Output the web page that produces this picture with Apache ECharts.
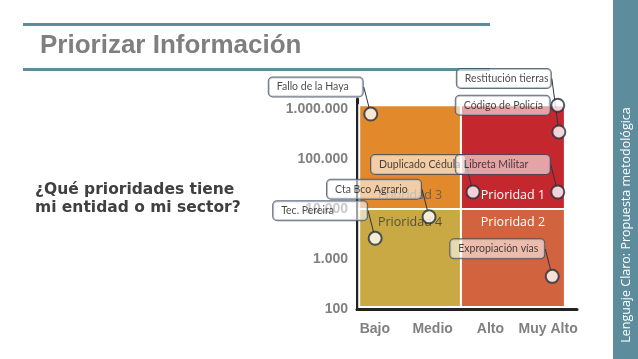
<!DOCTYPE html>
<html><head><meta charset="utf-8">
<script src="https://cdn.jsdelivr.net/npm/echarts@6/dist/echarts.min.js"></script>
<style>html,body{margin:0;padding:0;background:#fff}#c{width:638px;height:359px}</style>
</head><body><div id="c"></div>
<script>
// ---- data ----
const levelLabels = ['Bajo', 'Medio', 'Alto', 'Muy Alto'];
const pointNames = ['Fallo de la Haya', 'Código de Policía', 'Restitución tierras', 'Duplicado Cédula', 'Libreta Militar', 'Cta Bco Agrario', 'Tec. Pereira', 'Expropiación vías'];
const pointLevel = [0.25, 3.65, 3.67, 2.11, 3.65, 1.31, 0.33, 3.55];
const pointValue = [800000, 1200000, 350000, 22000, 22000, 7000, 2600, 450];
const quadrantNames = ['Prioridad 3', 'Prioridad 1', 'Prioridad 4', 'Prioridad 2'];
const quadrantLevelRange = [[0.04, 1.89], [1.89, 3.78], [0.04, 1.89], [1.89, 3.78]];
const quadrantValueRange = [[10000, 1200000], [10000, 1200000], [110, 10000], [110, 10000]];

// ---- styles ----
const quadrantColors = ['#E2892B', '#C4272D', '#C9A944', '#D2633F'];
const quadrantTextColors = ['#6b5f50', '#ffffff', '#5a5036', '#ffffff'];
const quadrantTextPos = ['insideBottom', 'insideBottom', 'insideTop', 'insideTop'];
const calloutDy = [-27, 0, -53.5, -27.5, -27.5, -27.5, -27.5, -27.5];
const teal = '#5d8d9d';
const axisFont = { fontFamily: '"Liberation Sans Narrow", "Liberation Sans", Arial, sans-serif', fontWeight: 'bold', fontSize: 14, color: '#808080' };

function fmt(v) {
  const l = Math.log10(v);
  if (Math.abs(l - Math.round(l)) > 1e-6) return '';
  return String(Math.round(v)).replace(/\B(?=(\d{3})+(?!\d))/g, '.');
}

const areas = quadrantNames.map((n, i) => [
  { name: n, xAxis: quadrantLevelRange[i][0], yAxis: quadrantValueRange[i][0],
    itemStyle: { color: quadrantColors[i] },
    label: { color: quadrantTextColors[i], position: quadrantTextPos[i] } },
  { xAxis: quadrantLevelRange[i][1], yAxis: quadrantValueRange[i][1] }
]);

const points = pointNames.map((n, i) => ({ name: n, value: [pointLevel[i], pointValue[i]] }));

const chart = echarts.init(document.getElementById('c'), null, { renderer: 'canvas' });
chart.setOption({
  animation: false,
  backgroundColor: '#fff',
  grid: [
    { left: 357, right: 61, top: 99, bottom: 50 },
    { left: 346, right: 61, top: 99, bottom: 50 }
  ],
  xAxis: [
    { type: 'value', gridIndex: 0, min: 0, max: 4,
      axisLine: { show: true, onZero: false, lineStyle: { color: '#222', width: 3 } },
      axisTick: { show: false }, axisLabel: { show: false }, splitLine: { show: false } },
    { type: 'category', gridIndex: 1, data: levelLabels,
      axisLine: { show: false }, axisTick: { show: false }, splitLine: { show: false },
      axisLabel: Object.assign({ margin: 13, interval: 0 }, axisFont) }
  ],
  yAxis: [
    { type: 'log', logBase: 10, gridIndex: 0, min: 100, max: 1600000,
      axisLine: { show: true, onZero: false, lineStyle: { color: '#222', width: 3 } },
      axisTick: { show: false }, splitLine: { show: false },
      axisLabel: Object.assign({ margin: 9, formatter: fmt }, axisFont) },
    { type: 'value', gridIndex: 1, show: false }
  ],
  series: [
    { type: 'scatter', xAxisIndex: 0, yAxisIndex: 0, data: [], silent: true, z: 1,
      markArea: {
        silent: true,
        itemStyle: { borderColor: '#ffffff', borderWidth: 2 },
        label: { show: true, distance: 8, fontFamily: '"Open Sans", sans-serif', fontSize: 12.5 },
        data: areas
      } },
    { type: 'scatter', xAxisIndex: 0, yAxisIndex: 0, data: points, z: 3, clip: false,
      symbol: 'circle', symbolSize: 13,
      itemStyle: { color: '#ffffff', borderColor: '#27303d', borderWidth: 2 },
      emphasis: { disabled: true },
      label: {
        show: true, formatter: '{b}', position: 'inside',
        fontFamily: 'Lato, sans-serif', fontSize: 10.5, color: '#1a1a1a',
        backgroundColor: 'rgba(255,255,255,0.72)', borderColor: '#3d4b5f', borderWidth: 1,
        borderRadius: 4, padding: [4, 8, 4, 8], width: 78, align: 'left'
      },
      labelLine: { show: true, lineStyle: { color: '#2b3545', width: 1 } },
      labelLayout: function (p) {
        const cx = p.rect.x + p.rect.width / 2;
        const cy = p.rect.y + p.rect.height / 2;
        return { x: cx - 102, y: cy + calloutDy[p.dataIndex], align: 'left', verticalAlign: 'middle' };
      }
    }
  ],
  graphic: [
    { type: 'rect', shape: { x: 613, y: 0, width: 25, height: 359 }, style: { fill: teal } },
    { type: 'rect', shape: { x: 23, y: 23, width: 467, height: 3 }, style: { fill: teal } },
    { type: 'rect', shape: { x: 23, y: 68, width: 467, height: 3 }, style: { fill: teal } },
    { type: 'text', x: 40, y: 46, style: { text: 'Priorizar Información', fill: '#7f7f7f',
      font: 'bold 26px "Liberation Sans", Arial, sans-serif', textVerticalAlign: 'middle' } },
    { type: 'text', x: 35, y: 199, style: { text: '¿Qué prioridades tiene\nmi entidad o mi sector?', fill: '#404040',
      font: 'bold 15.5px "DejaVu Sans", sans-serif', lineHeight: 18, textVerticalAlign: 'middle' } },
    { type: 'text', x: 626, y: 225, rotation: Math.PI / 2, style: { text: 'Lenguaje Claro: Propuesta metodológica', fill: '#ffffff',
      font: '12.5px "Open Sans", sans-serif', textAlign: 'center', textVerticalAlign: 'middle' } }
  ]
});
</script>
</body></html>
